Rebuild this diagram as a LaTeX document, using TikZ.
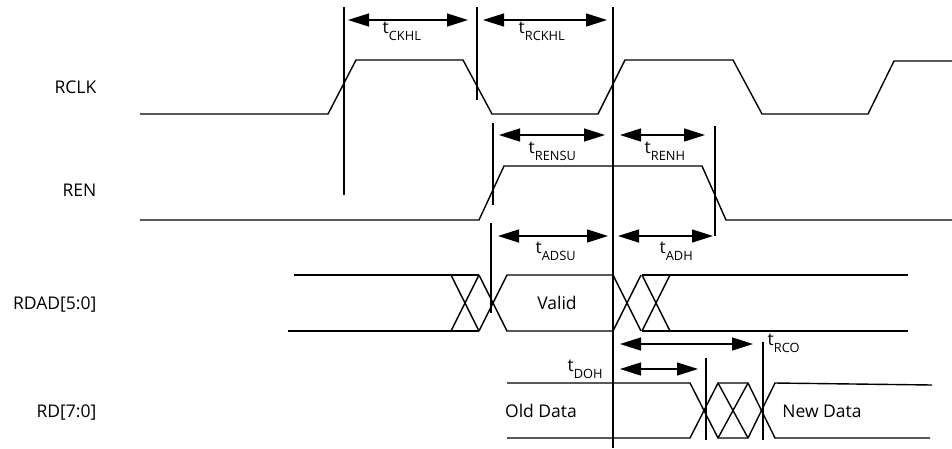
\documentclass[tikz,border=0pt]{standalone}
\usepackage{fontspec}
\setmainfont{Open Sans}
\usetikzlibrary{arrows.meta}
\newcommand{\tsub}[1]{t\raisebox{-7pt}{\fontsize{12.8}{14}\selectfont #1}}

\begin{document}
\begin{tikzpicture}[x=1pt, y=-1pt, line width=1.4pt]
	\tikzstyle{signame} = [anchor=east, inner sep=0pt, font=\fontsize{17.5}{20}\selectfont]
	\tikzstyle{datatext} = [inner sep=0pt, font=\fontsize{17.5}{20}\selectfont]
	\tikzstyle{tname}   = [anchor=base west, inner sep=0pt, font=\fontsize{17.5}{20}\selectfont]
	\tikzstyle{timing}  = [{Triangle[length=21pt,width=13pt]}-{Triangle[length=21pt,width=13pt]}]

	\useasboundingbox (0,0) rectangle (952,448);
%	\draw[step=50, gray!50, thin] (0,0) grid (952,448);

	% signal names
	\foreach \name/\lbl/\y in {rclk/RCLK/87, ren/REN/190, rdad/RDAD[5:0]/305, rd/RD[7:0]/413}
		\node[signame] (\name) at (97, \y) {\lbl};

	% RCLK and REN
	\draw (140,114) -- (328,114) -- (356,60) -- (463,60) -- (492,114) -- (598,114) -- (625,60) -- (733,60) -- (762,114) -- (868,114) -- (894,61) -- (952,61);
	\draw (140,220) -- (479,220) -- (504,166) -- (702,166) -- (726,220) -- (952,220);

	% RDAD[5:0]
	\draw (294,275) -- (479,275);
	\draw (288,331) -- (479,331);
	\draw (451,275) -- (479,331) (451,331) -- (479,275);
	\draw (479,275) -- (507,331) -- (613,331) -- (641,275);
	\draw (479,331) -- (507,275) -- (613,275) -- (641,331);
	\draw (642,275) -- (670,331) (642,331) -- (670,275);
	\draw (642,275) -- (908,275);
	\draw (642,331) -- (908,331);

	% RD[7:0]
	\draw (507,383) -- (690,383) -- (718,438) -- (748,438) -- (775,383) -- (932,385);
	\draw (507,438) -- (690,438) -- (718,383) -- (748,383) -- (775,438) -- (930,438);
	\draw (718,383) -- (748,438) (718,438) -- (748,383);

	% reference lines
	\foreach \x/\ya/\yb in {344/7/195, 477/7/100, 613/7/448, 493/123/205, 491/223/313, 715/126/236, 706/358/440, 763/342/440}
		\draw (\x,\ya) -- (\x,\yb);

	% timing arrows
	\foreach \name/\xa/\xb/\y in {ckhl/348/468/20, rckhl/483/607/20, rensu/499/605/135, renh/620/705/135, adsu/498/608/236, adh/618/713/236, rco/620/753/344, doh/620/698/369}
	{
		\coordinate (\name a) at (\xa,\y);
		\coordinate (\name b) at (\xb,\y);
		\draw[timing] (\name a) -- (\name b);
	}

	\foreach \name/\sub/\x/\y in {ckhl/CKHL/382/33, rckhl/RCKHL/518/33, rensu/RENSU/528/153, renh/RENH/644/153, adsu/ADSU/535/253, adh/ADH/659/253, rco/RCO/767/345, doh/DOH/567/371}
		\node[tname] (t\name) at (\x,\y) {\tsub{\sub}};

	% data labels
	\node[datatext] (valid) at (557,303) {Valid};
	\node[datatext] (old) at (541,411) {Old Data};
	\node[datatext] (new) at (822,411) {New Data};

\end{tikzpicture}
\end{document}
